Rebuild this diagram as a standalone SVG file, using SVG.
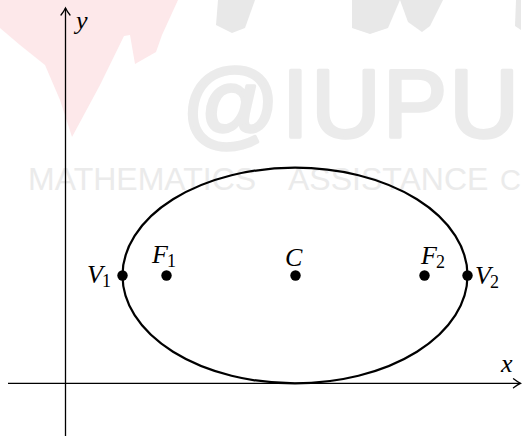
<svg xmlns="http://www.w3.org/2000/svg" width="522" height="436" viewBox="0 0 522 436">
<style>
.wm{fill:#ebebeb;font-family:"Liberation Sans","DejaVu Sans",sans-serif}
.lbl{font-family:"Liberation Serif","DejaVu Serif",serif;font-style:italic;font-size:26px;fill:#000}
.sub{font-style:normal;font-size:18px}
.dot{fill:#000}
.axis{stroke:#000;stroke-width:1.3;fill:none}
</style>
<defs>
<marker id="arr" markerUnits="userSpaceOnUse" markerWidth="12" markerHeight="12" viewBox="0 0 12 12" refX="10" refY="6" orient="auto">
<path d="M3,1.5 Q7,4.6 10,6 Q7,7.4 3,10.5" fill="none" stroke="#000" stroke-width="1.3" stroke-linecap="round"/>
</marker>
</defs>
<rect width="522" height="436" fill="#fff"/>
<g id="watermark">
<polygon points="0,0 178,0 162,35 156,52 135,64 130,35 124,36 100,85 72,137 60,100 45,65 20,45 0,28" fill="#fde8ea"/>
<polygon points="218,0 255,0 245,28 232,33 216,25" fill="#e8e8e8"/>
<polygon points="352,0 400,0 388,28 370,34 352,28" fill="#e8e8e8"/>
<polygon points="400,0 443,0 430,26 422,32 408,22" fill="#e8e8e8"/>
<polygon points="516,0 521,0 521,30 515,26" fill="#e8e8e8"/>
<text class="wm" x="182" y="137" font-size="96" letter-spacing="2.5" stroke="#ebebeb" stroke-width="3.5" stroke-linejoin="round">@IUPU</text>
<text class="wm" y="190" font-size="32" fill="#efefef"><tspan x="28">MATHEMATICS</tspan><tspan x="288">ASSISTANCE</tspan><tspan x="500" font-size="29">C</tspan></text>
</g>
<g id="connectors">
<line class="axis" x1="65.5" y1="436" x2="65.5" y2="8" marker-end="url(#arr)"/>
<line class="axis" x1="8" y1="383.3" x2="520.5" y2="383.3" marker-end="url(#arr)"/>
</g>
<g id="axis-labels">
<text class="lbl" x="76" y="29">y</text>
<text class="lbl" x="501" y="372">x</text>
</g>
<g id="ellipse">
<ellipse cx="295" cy="275.5" rx="172.5" ry="107.8" fill="none" stroke="#000" stroke-width="2.2"/>
</g>
<g id="V1">
<circle class="dot" cx="122.5" cy="275.5" r="5.2"/>
<text class="lbl" x="87" y="283">V<tspan class="sub" dx="-1" dy="4">1</tspan></text>
</g>
<g id="F1">
<circle class="dot" cx="166.5" cy="275.5" r="5.2"/>
<text class="lbl" x="152" y="263">F<tspan class="sub" dx="-1" dy="4">1</tspan></text>
</g>
<g id="C">
<circle class="dot" cx="295.5" cy="275.5" r="5.2"/>
<text class="lbl" x="285" y="266">C</text>
</g>
<g id="F2">
<circle class="dot" cx="424.5" cy="275.5" r="5.2"/>
<text class="lbl" x="421" y="264">F<tspan class="sub" dx="-1" dy="4">2</tspan></text>
</g>
<g id="V2">
<circle class="dot" cx="467.5" cy="275.5" r="5.2"/>
<text class="lbl" x="475" y="284">V<tspan class="sub" dx="-1" dy="4">2</tspan></text>
</g>
</svg>
